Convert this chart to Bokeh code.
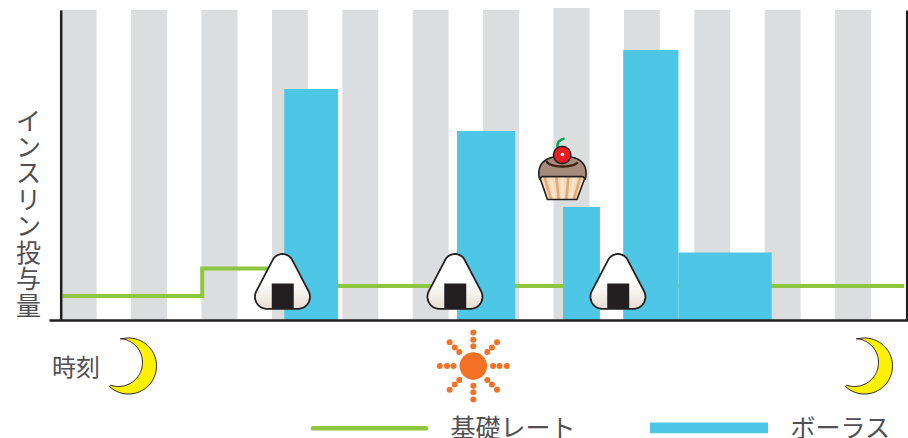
import math
import numpy as np
from bokeh.plotting import figure
from bokeh.models import Range1d
from bokeh.core.properties import value
from bokeh.embed import file_html
from bokeh.resources import INLINE

# ---- data (time of day in hours, insulin in arbitrary units) ----
band_start = [0, 2, 4, 6, 8, 10, 12, 14, 16, 18, 20, 22]
band_top = [31, 31, 31, 31, 31, 31, 31, 31.2, 31, 31, 31, 31]
band_width = 1.02

basal_hours = [0.05, 4.02, 7.0, 23.96]
basal_rate = [2.4, 5.15, 3.4, 3.4]

bolus_start = [6.35, 11.26, 14.27, 15.98, 17.55]
bolus_end = [7.88, 12.91, 15.32, 17.55, 20.2]
bolus_dose = [23.1, 18.9, 11.3, 27.0, 6.75]

meal_hours = [6.3, 11.2, 15.83]
snack_hour = 14.24

ylabel = "インスリン投与量"
time_label = "時刻"
legend_basal = "基礎レート"
legend_bolus = "ボーラス"

GREY = "#dcddde"
BLUE = "#4ec7e6"
GREEN = "#8dc63f"
INK = "#231f20"
TEXT = "#505052"
ORANGE = "#f47125"
FONT = value("Noto Sans CJK JP")

X0, PER_H, Y0, PER_U = 60.2, 35.2, 319.5, 10.0


def hx(px):
    return (np.asarray(px, dtype=float) - X0) / PER_H


def uy(py):
    return (Y0 - np.asarray(py, dtype=float)) / PER_U


def px_of_hour(h):
    return X0 + PER_H * h


p = figure(width=908, height=438, output_backend="svg", toolbar_location=None,
           x_range=Range1d(float(hx(0)), float(hx(908))),
           y_range=Range1d(float(uy(438)), float(uy(0))),
           min_border=0, outline_line_color=None,
           background_fill_color="white", border_fill_color="white")
p.axis.visible = False
p.grid.visible = False

# bands
p.quad(left=band_start, right=[b + band_width for b in band_start],
       bottom=0, top=band_top, fill_color=GREY, line_color=None)

# basal
p.step(basal_hours, basal_rate, mode="after", line_color=GREEN, line_width=4,
       line_join="miter")

# bolus
p.quad(left=bolus_start, right=bolus_end, bottom=0, top=bolus_dose,
       fill_color=BLUE, line_color=None)

# axes
p.line(hx([60.7, 60.7]), uy([10, 320]), line_color=INK, line_width=2.5)
p.line(hx([906.7, 906.7]), uy([10, 320]), line_color=INK, line_width=2.5)
p.line(hx([49, 908]), uy([320, 320]), line_color=INK, line_width=2.5)


def hull(points):
    pts = sorted(set(points))
    def half(seq):
        out = []
        for q in seq:
            while len(out) > 1 and ((out[-1][0]-out[-2][0])*(q[1]-out[-2][1]) -
                                    (out[-1][1]-out[-2][1])*(q[0]-out[-2][0])) <= 0:
                out.pop()
            out.append(q)
        return out
    lo, up = half(pts), half(pts[::-1])
    return lo[:-1] + up[:-1]


def onigiri(cx):
    pts = []
    for (dx, cy, r) in [(0, 264.5, 11.0), (-15.5, 296.3, 12.0), (15.5, 296.3, 12.0)]:
        for a in np.linspace(0, 2*math.pi, 90, endpoint=False):
            pts.append((round(cx+dx+r*math.cos(a), 3), round(cy+r*math.sin(a), 3)))
    poly = hull(pts)
    xs = [q[0] for q in poly] + [poly[0][0]]
    ys = [q[1] for q in poly] + [poly[0][1]]
    p.patch(hx(xs), uy(ys), fill_color="white", fill_alpha=1.0, line_color=None)
    lefts, rights, tops, bots, cols = [], [], [], [], []
    for row in range(282, 309):
        ym = row + 0.5
        cut = []
        for i in range(len(poly)):
            (x1, y1), (x2, y2) = poly[i], poly[(i+1) % len(poly)]
            if (y1 - ym) * (y2 - ym) <= 0 and y1 != y2:
                cut.append(x1 + (ym-y1)*(x2-x1)/(y2-y1))
        if len(cut) < 2:
            continue
        t = (row-282)/26.0
        c = tuple(int(255+(e-255)*t) for e in (222, 212, 198))
        lefts.append(min(cut)); rights.append(max(cut))
        tops.append(row-0.1); bots.append(row+1.1)
        cols.append("#%02x%02x%02x" % c)
    p.quad(left=hx(lefts), right=hx(rights), top=uy(tops), bottom=uy(bots),
           fill_color=cols, line_color=None)
    p.line(hx(xs), uy(ys), line_color=INK, line_width=1.8)
    p.quad(left=hx([cx-10.7]), right=hx([cx+11.3]), top=uy([283]), bottom=uy([307.5]),
           fill_color=INK, line_color=None)


for h in meal_hours:
    onigiri(px_of_hour(h))


def moon(dx):
    a0, a1 = math.atan2(-27, -8), math.atan2(19.5, -18)
    a1 = a1 if a1 > a0 else a1 + 2*math.pi
    ao = np.linspace(a0, a1, 70)
    xo = 128 + dx + 28*np.cos(ao)
    yo = 365.5 + 28*np.sin(ao)
    b0, b1 = math.atan2(23.5, -8), math.atan2(-23.5, 2)
    ai = np.linspace(b0 if b0 > 0 else b0+2*math.pi, b1, 70)
    xi = 118 + dx + 24*np.cos(ai)
    yi = 362 + 24*np.sin(ai)
    p.patch(hx(np.r_[xo, xi]), uy(np.r_[yo, yi]), fill_color="#fff200",
            line_color=INK, line_width=1)


moon(0)
moon(736)

# sun
sx, sy = 472.8, 365.5
a = np.linspace(0, 2*math.pi, 80)
p.patch(hx(sx+13.7*np.cos(a)), uy(sy+13.7*np.sin(a)), fill_color=ORANGE, line_color=None)
dots_x, dots_y = [], []
for k in range(8):
    ang = k*math.pi/4
    for d in (19.8, 26.3, 33.5):
        dots_x.append(sx+d*math.cos(ang)); dots_y.append(sy+d*math.sin(ang))
p.scatter(hx(dots_x), uy(dots_y), size=6, marker="circle", fill_color=ORANGE, line_color=None)

# cupcake
cx = px_of_hour(snack_hour)
p.patch(hx([cx-22.5, cx+23.5, cx+15, cx-14.5]), uy([176, 176, 199, 199]),
        fill_color="#f6d8ba", line_color=None)
for f, col in zip(np.linspace(-0.78, 0.78, 7),
                  ["#e3a878", "#fbe6d0", "#e3a878", "#fbe6d0", "#e3a878", "#fbe6d0", "#e3a878"]):
    p.line(hx([cx+0.5+f*23, cx+0.5+f*14.7]), uy([176.5, 198.5]), line_color=col, line_width=2.6)
p.patch(hx([cx-22.5, cx+23.5, cx+15, cx-14.5]), uy([176, 176, 199, 199]),
        fill_color=None, line_color=INK, line_width=1.6)
t = np.linspace(math.pi*0.9, math.pi*2.1, 50)
c_t, s_t = np.cos(t), np.sin(t)
fx = cx+0.5 + 23.6*np.sign(c_t)*np.abs(c_t)**0.75
fy = 173 + 17*np.sign(s_t)*np.abs(s_t)**0.9
p.patch(hx(np.r_[fx, cx+21, cx-20]), uy(np.r_[fy, 176, 176]), fill_color="#a68a7b",
        line_color=INK, line_width=1.6)
t2 = np.linspace(math.pi*0.98, math.pi*0.1, 30)
p.line(hx(cx+0.5+16*np.cos(t2)), uy(160+6*np.sin(t2)), line_color="#3c2415", line_width=2.4)
p.line(hx([cx-4.2, cx-4.5, cx-3.2, cx+0.5, cx+2.5]), uy([148, 144, 141, 138.6, 138]),
       line_color="#00a651", line_width=2.5)
t = np.linspace(0, 2*math.pi, 50)
p.patch(hx(cx+0.2+8.6*np.cos(t)), uy(154.5+8.6*np.sin(t)), fill_color="#ed1c24",
        line_color=INK, line_width=1.5)
p.scatter(hx([cx+0.4]), uy([154]), size=3.5, marker="circle", fill_color="white", line_color=None)

# legend marks
p.line(hx([312.5, 425.5]), uy([427.7, 427.7]), line_color=GREEN, line_width=4.5, line_cap="round")
p.quad(left=hx([649.5]), right=hx([767.5]), top=uy([422]), bottom=uy([432.8]),
       fill_color=BLUE, line_color=None)

# text
p.text(hx([28]), uy([100]), text=["\n".join(ylabel)], text_font=FONT, text_font_size="25px",
       text_color=TEXT, text_align="center", text_baseline="top", text_line_height=0.735)
p.text(hx([51.5]), uy([365]), text=[time_label], text_font=FONT, text_font_size="24px",
       text_color=TEXT, text_align="left", text_baseline="middle")
p.text(hx([450]), uy([425]), text=[legend_basal], text_font=FONT, text_font_size="25px",
       text_color=TEXT, text_align="left", text_baseline="middle")
p.text(hx([790]), uy([425]), text=[legend_bolus], text_font=FONT, text_font_size="25px",
       text_color=TEXT, text_align="left", text_baseline="middle")

open("out.html", "w").write(file_html(p, INLINE))
